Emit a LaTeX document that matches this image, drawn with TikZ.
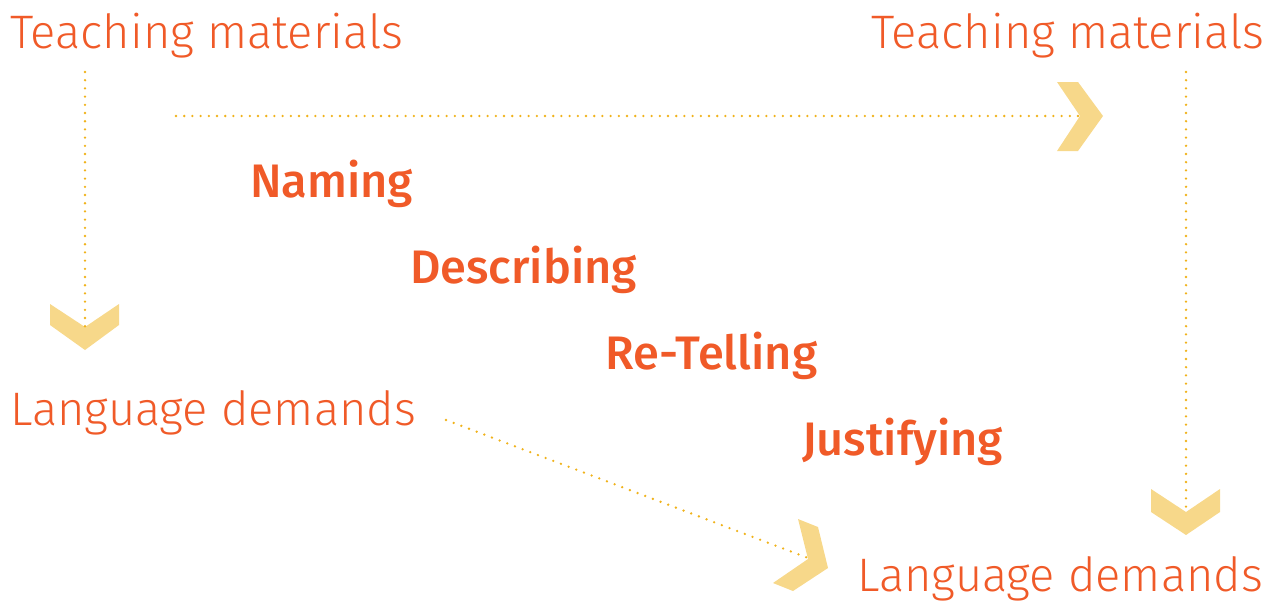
\documentclass[tikz,border=0pt]{standalone}
\usepackage{fontspec}
\setmainfont{Fira Sans Light}[BoldFont=Fira Sans Medium]
\definecolor{txtc}{HTML}{F05A28}
\definecolor{dotc}{HTML}{F0B21A}
\definecolor{chev}{HTML}{F7D88A}
\begin{document}
\begin{tikzpicture}[x=1pt,y=-1pt,
  lbl/.style={anchor=base west,inner sep=0pt,text=txtc,font=\fontsize{47}{52}\selectfont},
  stage/.style={anchor=base west,inner sep=0pt,text=txtc,font=\bfseries\fontsize{47}{52}\selectfont},
  dots/.style={draw=dotc,line width=2.6pt,line cap=round,dash pattern=on 0pt off 8.2pt},
  chevron/.style={fill=chev,draw=none}]
\useasboundingbox (0,0) rectangle (1276,605);
% texts
\node[lbl] (tm1) at (10,48) {Teaching materials};
\node[lbl] (tm2) at (871,48) {Teaching materials};
\node[lbl] (ld1) at (10,425) {Language demands};
\node[lbl] (ld2) at (857,591) {Language demands};
\node[stage] (n1) at (250,197) {Naming};
\node[stage] (n2) at (410,283) {Describing};
\node[stage] (n3) at (605,369) {Re-Telling};
\node[stage] (n4) at (802,455) {Justifying};
% chevrons
\fill[chevron] (50,304) -- (85,327) -- (119,304) -- (119,325) -- (85,350) -- (50,325) -- cycle;
\fill[chevron] (1151,489) -- (1186,512) -- (1220,489) -- (1220,512) -- (1186,535) -- (1151,512) -- cycle;
\fill[chevron] (1057,82) -- (1078,82) -- (1103,116) -- (1078,151) -- (1057,151) -- (1080,116) -- cycle;
\fill[chevron] (798,519) -- (818,527) -- (828,568) -- (793,591) -- (773,583) -- (808,559) -- cycle;
% connector endpoints
\coordinate (a1) at (85,72);
\coordinate (a2) at (85,328);
\coordinate (b1) at (176,116);
\coordinate (b2) at (1080,116);
\coordinate (c1) at (1186,72);
\coordinate (c2) at (1186,512);
\coordinate (d1) at (446,420);
\coordinate (d2) at (808,558);
\draw[dots] (a1) -- (a2);
\draw[dots] (b1) -- (b2);
\draw[dots] (c1) -- (c2);
\draw[dots] (d1) -- (d2);
\end{tikzpicture}
\end{document}
